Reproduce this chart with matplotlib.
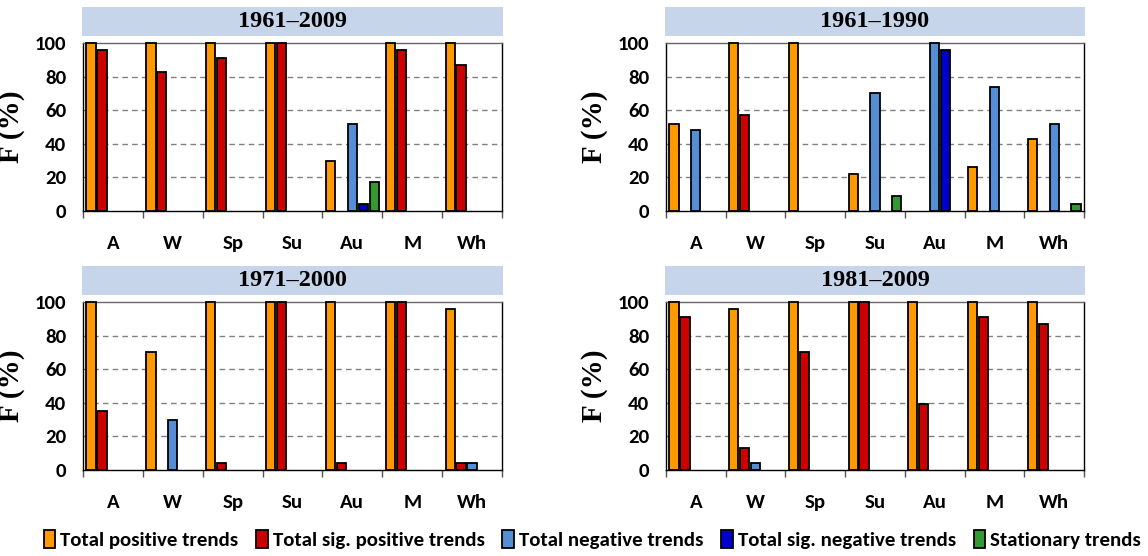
import matplotlib
matplotlib.use("Agg")
import matplotlib.pyplot as plt
from matplotlib.patches import Rectangle, Patch
import numpy as np

categories = ["A", "W", "Sp", "Su", "Au", "M", "Wh"]
series_names = ["Total positive trends", "Total sig. positive trends",
                "Total negative trends", "Total sig. negative trends",
                "Stationary trends"]
colors = ["#FF9900", "#CC0000", "#558ED5", "#0000CC", "#339933"]

titles = ["1961\u20132009", "1961\u20131990", "1971\u20132000", "1981\u20132009"]

# values per panel: [positive, sig positive, negative, sig negative, stationary]
p1961_2009_pos = [100, 100, 100, 100, 30, 100, 100]
p1961_2009_sigpos = [96, 83, 91, 100, 0, 96, 87]
p1961_2009_neg = [0, 0, 0, 0, 52, 0, 0]
p1961_2009_signeg = [0, 0, 0, 0, 4, 0, 0]
p1961_2009_stat = [0, 0, 0, 0, 17, 0, 0]

p1961_1990_pos = [52, 100, 100, 22, 0, 26, 43]
p1961_1990_sigpos = [0, 57, 0, 0, 0, 0, 0]
p1961_1990_neg = [48, 0, 0, 70, 100, 74, 52]
p1961_1990_signeg = [0, 0, 0, 0, 96, 0, 0]
p1961_1990_stat = [0, 0, 0, 9, 0, 0, 4]

p1971_2000_pos = [100, 70, 100, 100, 100, 100, 96]
p1971_2000_sigpos = [35, 0, 4, 100, 4, 100, 4]
p1971_2000_neg = [0, 30, 0, 0, 0, 0, 4]
p1971_2000_signeg = [0, 0, 0, 0, 0, 0, 0]
p1971_2000_stat = [0, 0, 0, 0, 0, 0, 0]

p1981_2009_pos = [100, 96, 100, 100, 100, 100, 100]
p1981_2009_sigpos = [91, 13, 70, 100, 39, 91, 87]
p1981_2009_neg = [0, 4, 0, 0, 0, 0, 0]
p1981_2009_signeg = [0, 0, 0, 0, 0, 0, 0]
p1981_2009_stat = [0, 0, 0, 0, 0, 0, 0]

panels = [
    [p1961_2009_pos, p1961_2009_sigpos, p1961_2009_neg, p1961_2009_signeg, p1961_2009_stat],
    [p1961_1990_pos, p1961_1990_sigpos, p1961_1990_neg, p1961_1990_signeg, p1961_1990_stat],
    [p1971_2000_pos, p1971_2000_sigpos, p1971_2000_neg, p1971_2000_signeg, p1971_2000_stat],
    [p1981_2009_pos, p1981_2009_sigpos, p1981_2009_neg, p1981_2009_signeg, p1981_2009_stat],
]

W, H = 1148, 556
fig = plt.figure(figsize=(W / 100, H / 100), dpi=100)

boxes = [  # left, top, right, bottom in px
    (83, 43, 502, 211),
    (666, 43, 1084, 211),
    (83, 302, 502, 470),
    (666, 302, 1084, 470),
]

sans = ["Carlito", "DejaVu Sans"]
serif = ["Liberation Serif", "DejaVu Serif"]

x = np.arange(len(categories))
slot = 0.183
bw = 0.155

for (l, t, r, b), title, data in zip(boxes, titles, panels):
    ax = fig.add_axes([l / W, 1 - b / H, (r - l) / W, (b - t) / H])
    for i, (vals, c) in enumerate(zip(data, colors)):
        vals = np.array(vals, dtype=float)
        mask = vals > 0
        bars = ax.bar(x[mask] + (i - 2) * slot, vals[mask], width=bw, color=c,
                      edgecolor="black", linewidth=1.3, zorder=3)
        for p in bars:
            p.set_clip_on(False)
    ax.set_xlim(-0.5, len(categories) - 0.5)
    ax.set_ylim(0, 100)
    ax.set_yticks(range(0, 101, 20))
    ax.set_xticks(x)
    ax.set_xticklabels(categories)
    ax.set_xticks(np.arange(-0.5, len(categories), 1), minor=True)
    ax.tick_params(axis="x", which="major", length=0, pad=17)
    ax.tick_params(axis="x", which="minor", length=5, width=1, direction="out", color="#555555")
    ax.tick_params(axis="y", length=0, pad=12)
    for lab in ax.get_xticklabels() + ax.get_yticklabels():
        lab.set_fontfamily(sans)
        lab.set_fontweight("bold")
        lab.set_fontsize(15)
    for yv in range(20, 100, 20):
        ax.axhline(yv, color="#808080", linestyle=(0, (4, 3)), linewidth=1, zorder=1)
    for s in ax.spines.values():
        s.set_color("black")
        s.set_linewidth(1)
    ax.spines["top"].set_color("#666666")
    ax.set_ylabel("F (%)", fontfamily=serif, fontweight="bold", fontsize=21)
    ax.yaxis.set_label_coords(-0.138, 0.5)
    h = b - t
    band = Rectangle((-0.003, 1 + 7 / h), 1.006, 29 / h, transform=ax.transAxes,
                     facecolor="#C6D5EA", edgecolor="none", clip_on=False)
    ax.add_patch(band)
    ax.text(0.5, 1 + (7 + 14.5) / h, title, transform=ax.transAxes, ha="center",
            va="center", fontfamily=serif, fontweight="bold", fontsize=17.5)

handles = [Patch(facecolor=c, edgecolor="black", linewidth=1.3) for c in colors]
leg = fig.legend(handles, series_names, loc="center", bbox_to_anchor=(0.516, 0.029),
                 ncol=5, frameon=False, handlelength=0.55, handleheight=0.9,
                 handletextpad=0.25, columnspacing=0.85,
                 prop={"family": sans, "weight": "bold", "size": 15})

fig.savefig("out.png", dpi=100)
